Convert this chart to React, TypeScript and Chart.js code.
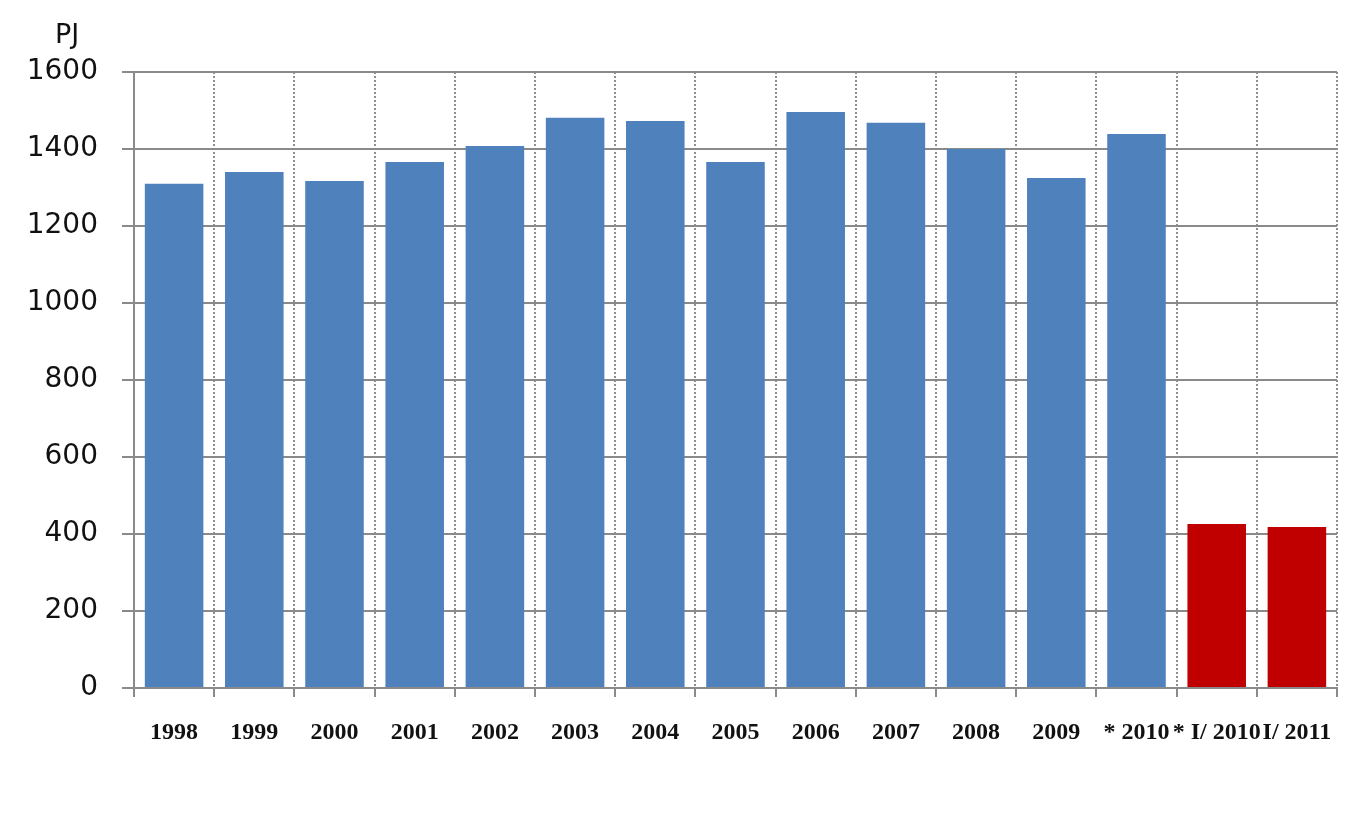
import React, { useEffect, useRef } from "react";
import { Chart, registerables } from "chart.js";

Chart.register(...registerables);

const categories = ["1998", "1999", "2000", "2001", "2002", "2003", "2004", "2005", "2006", "2007", "2008", "2009", "* 2010", "* I/ 2010", "I/ 2011"];
const values = [1310, 1340, 1317, 1366, 1408, 1481, 1473, 1366, 1496, 1468, 1400, 1325, 1439, 426, 418];
const barColors = ["#4F81BD", "#4F81BD", "#4F81BD", "#4F81BD", "#4F81BD", "#4F81BD", "#4F81BD", "#4F81BD", "#4F81BD", "#4F81BD", "#4F81BD", "#4F81BD", "#4F81BD", "#C00000", "#C00000"];
const yTicks = [0, 200, 400, 600, 800, 1000, 1200, 1400, 1600];
const unitLabel = "PJ";

const GRID = "#8a8a8a";

export default function App() {
  const ref = useRef<HTMLCanvasElement | null>(null);
  useEffect(() => {
    const canvas = ref.current;
    if (!canvas) return;
    const unitPlugin = {
      id: "unitLabel",
      afterDraw(chart: any) {
        const ctx = chart.ctx;
        ctx.save();
        ctx.font = "27px 'DejaVu Sans'";
        ctx.fillStyle = "#111";
        ctx.textAlign = "center";
        ctx.textBaseline = "middle";
        ctx.fillText(unitLabel, 67, 36);
        ctx.restore();
      },
    };
    const chart = new Chart(canvas, {
      type: "bar",
      data: {
        labels: categories,
        datasets: [
          {
            data: values,
            backgroundColor: barColors,
            borderWidth: 0,
            barPercentage: 0.73,
            categoryPercentage: 1,
          },
        ],
      },
      options: {
        responsive: false,
        animation: false,
        layout: { padding: { top: 72, right: 20, left: 0, bottom: 0 } },
        plugins: { legend: { display: false }, tooltip: { enabled: false } },
        scales: {
          x: {
            offset: true,
            grid: {
              offset: true,
              color: "#8f8f8f",
              lineWidth: 2,
              tickLength: 9,
              tickColor: GRID,
              tickBorderDash: [],
            },
            border: { color: GRID, width: 2, dash: [2, 2] },
            ticks: {
              color: "#111",
              font: { family: "'Liberation Serif'", size: 24, weight: "bold" },
              padding: 21,
              maxRotation: 0,
              autoSkip: false,
            },
            afterFit(scale: any) {
              scale.height = 149;
            },
          },
          y: {
            min: 0,
            max: 1600,
            afterBuildTicks(scale: any) {
              scale.ticks = yTicks.map((v) => ({ value: v }));
            },
            grid: { color: GRID, lineWidth: 2, tickLength: 12, tickColor: GRID },
            border: { color: GRID, width: 2 },
            ticks: {
              color: "#111",
              font: { family: "'DejaVu Sans'", size: 28 },
              padding: 24,
              callback: (v: any) => String(v),
            },
            afterFit(scale: any) {
              scale.width = 134;
            },
          },
        },
      },
      plugins: [unitPlugin],
    });
    return () => chart.destroy();
  }, []);
  return (
    <div style={{ position: "absolute", left: 0, top: 0, width: 1357, height: 837, background: "#fff" }}>
      <canvas ref={ref} width={1357} height={837} style={{ display: "block" }} />
    </div>
  );
}
